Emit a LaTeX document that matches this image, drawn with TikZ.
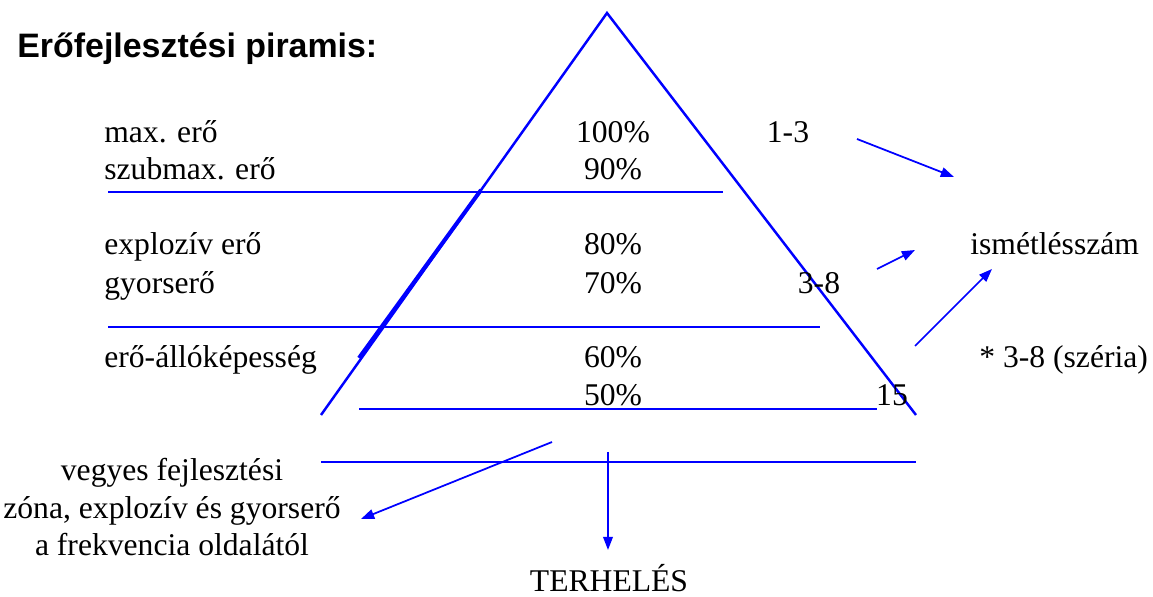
\documentclass[tikz,border=0pt]{standalone}
\usepackage{fontspec}
\setmainfont{Liberation Serif}
\setsansfont{Liberation Sans}
\usetikzlibrary{arrows.meta,positioning}

\begin{document}
\begin{tikzpicture}[x=0.02cm,y=-0.02cm,>={Triangle[length=7.5pt,width=5.5pt]},
  ln/.style={blue,line width=1.4pt},
  arr/.style={blue,line width=1pt,->},
  lbl/.style={font=\fontsize{18}{21.6}\selectfont,inner sep=0pt}]
\useasboundingbox (0,0) rectangle (1153,597);
% pyramid
\coordinate (apex) at (607,13);
\coordinate (bl) at (321,415);
\coordinate (br) at (916,415);
\draw[ln] (bl)--(apex)--(br);
\draw[blue,line width=2.3pt] (359,358)--(481,190);
% zone limits
\draw[ln] (108,192)--(723,192);
\draw[blue,line width=1.6pt] (494,192)--(723,192);
\draw[ln] (108,327)--(820,327);
\draw[ln] (359,409)--(877,409);
\draw[ln] (321,462)--(916,462);
% title
\node[font=\sffamily\bfseries\fontsize{19.3}{23}\selectfont,anchor=base west,inner sep=0pt] (title) at (17,58) {Erőfejlesztési piramis:};
% left labels
\node[lbl,anchor=base west] (maxe) at (104,143) {max. erő};
\node[lbl,anchor=base west] (szub) at (104,180) {szubmax. erő};
\node[lbl,anchor=base west] (expl) at (104,255) {explozív erő};
\node[lbl,anchor=base west] (gyors) at (104,294) {gyorserő};
\node[lbl,anchor=base west] (allo) at (104,368) {erő-állóképesség};
% percents
\foreach \p/\y in {100/143,90/180,80/255,70/294,60/368,50/406}
  \node[lbl,anchor=base] (p\p) at (613,\y) {\p\%};
% repetitions
\node[lbl,anchor=base] (r13) at (788,143) {1-3};
\node[lbl,anchor=base] (r38) at (819,294) {3-8};
\node[lbl,anchor=base] (r15) at (892,406) {15};
\node[lbl,anchor=base west] (ism) at (970,255) {ismétlésszám};
\node[lbl,anchor=base west] (szer) at (979,368) {* 3-8 (széria)};
\node[lbl,anchor=base,align=center] (vegy) at (172,556) {vegyes fejlesztési\\zóna, explozív és gyorserő\\a frekvencia oldalától};
\node[lbl,anchor=base] (terh) at (609,592) {TERHELÉS};
% arrows
\coordinate (a1) at (857,139); \coordinate (a2) at (954,177);
\coordinate (b1) at (877,269); \coordinate (b2) at (915,250);
\coordinate (c1) at (915,346); \coordinate (c2) at (992,269);
\coordinate (d1) at (552,442); \coordinate (d2) at (361,519);
\coordinate (e1) at (608,452); \coordinate (e2) at (608,550);
\draw[arr] (a1)--(a2);
\draw[arr] (b1)--(b2);
\draw[arr] (c1)--(c2);
\draw[arr] (d1)--(d2);
\draw[arr] (e1)--(e2);
\end{tikzpicture}
\end{document}
